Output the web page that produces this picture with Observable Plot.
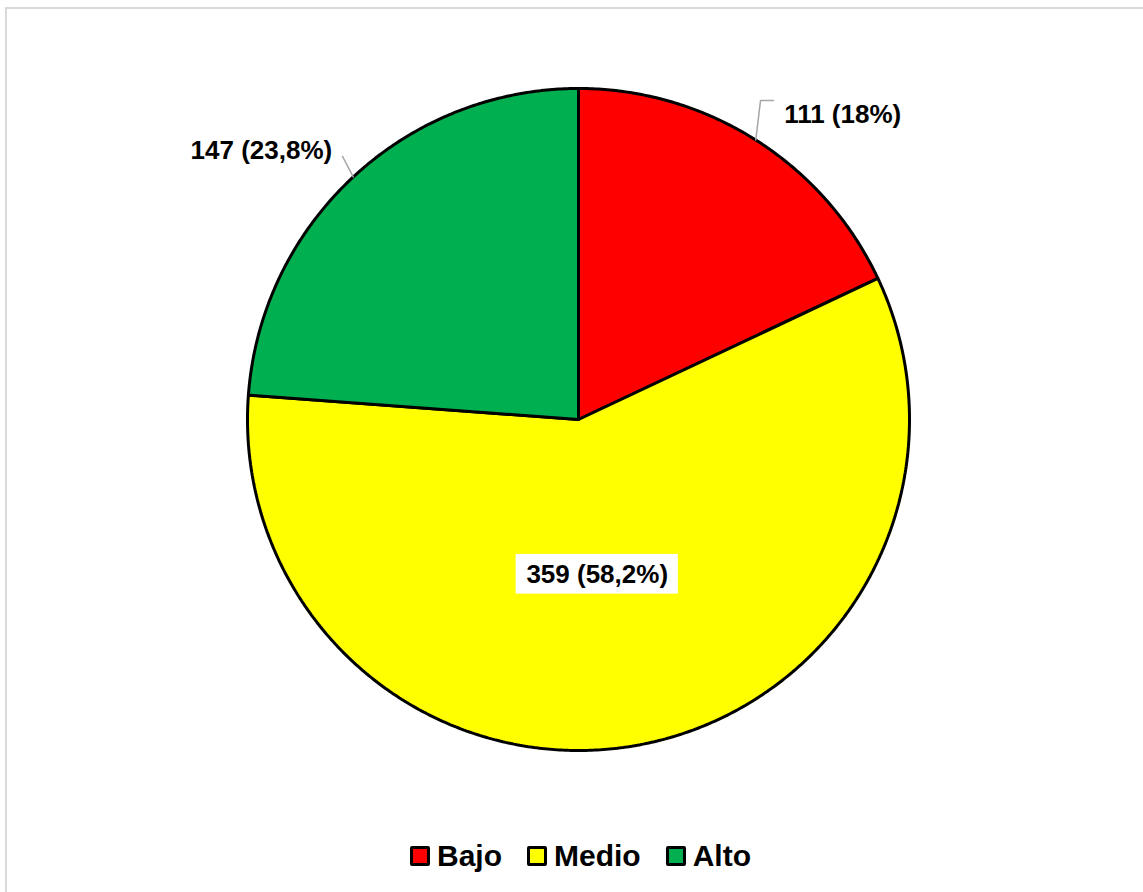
<!DOCTYPE html>
<html>
<head>
<meta charset="utf-8">
<script src="https://cdn.jsdelivr.net/npm/d3@7"></script>
<script src="https://cdn.jsdelivr.net/npm/@observablehq/plot@0.6"></script>
<style>
  html, body { margin: 0; padding: 0; background: #fff; }
  body { width: 1143px; height: 892px; overflow: hidden; position: relative; font-family: "Liberation Sans", Arial, sans-serif; }
  #frame { position: absolute; left: 5px; top: 7px; width: 1200px; height: 1000px; border: 2px solid #d9d9d9; box-sizing: border-box; }
  #chart { position: absolute; left: 0; top: 0; }
  #legend { position: absolute; left: 410px; top: 834px; height: 44px; display: flex; align-items: center; font-weight: bold; font-size: 30px; color: #000; }
  .item { display: flex; align-items: center; margin-right: 25px; }
  .sw { width: 14px; height: 14px; border: 3px solid #000; border-radius: 2px; margin-right: 7px; }
</style>
</head>
<body>
<div id="frame"></div>
<div id="chart"></div>
<div id="legend"></div>
<script>
// ---- data ----
const categories = ["Bajo", "Medio", "Alto"];
const values = [111, 359, 147];
const colors = ["#ff0000", "#ffff00", "#00b050"];

// ---- label placement (angle in degrees clockwise from 12 o'clock, radius in pie units) ----
const labelAngle = [40.9, 173.1, 310.3];
const labelRadius = [1.219, 0.471, 1.256];
// leader line elbow points (pie units), null = no leader
const leaderElbows = [
  [[0.55, 0.964], [0.589, 0.964]],
  null,
  [[-0.713, 0.795]]
];
const boxed = [false, true, false];

const total = d3.sum(values);
const fmtPct = v => {
  const p = v / total * 100;
  const r = Math.round(p * 10) / 10;
  const s = Number.isInteger(r) ? String(r) : r.toFixed(1).replace(".", ",");
  return s + "%";
};
const labels = values.map(v => `${v} (${fmtPct(v)})`);

const arcs = d3.pie().sort(null).value(d => d)(values);

// Polygon points for each slice
const piePts = [];
arcs.forEach((a, i) => {
  const cat = categories[i];
  piePts.push({cat, x: 0, y: 0});
  const n = Math.max(2, Math.ceil((a.endAngle - a.startAngle) / (Math.PI / 360)));
  for (let k = 0; k <= n; k++) {
    const t = a.startAngle + (a.endAngle - a.startAngle) * k / n;
    piePts.push({cat, x: Math.sin(t), y: Math.cos(t)});
  }
  piePts.push({cat, x: 0, y: 0});
});

// Labels
const labelData = arcs.map((a, i) => {
  const t = labelAngle[i] * Math.PI / 180;
  return {cat: categories[i], text: labels[i], x: labelRadius[i] * Math.sin(t), y: labelRadius[i] * Math.cos(t), boxed: boxed[i]};
});

// Leader lines
const leaderPts = [];
arcs.forEach((a, i) => {
  if (!leaderElbows[i]) return;
  const m = (a.startAngle + a.endAngle) / 2;
  leaderPts.push({cat: categories[i], x: Math.sin(m), y: Math.cos(m)});
  leaderElbows[i].forEach(p => leaderPts.push({cat: categories[i], x: p[0], y: p[1]}));
});

// White boxes behind boxed labels (half width/height in pie units)
const boxData = labelData.filter(d => d.boxed).map(d => ({
  x1: d.x - 0.245, x2: d.x + 0.245, y1: d.y - 0.06, y2: d.y + 0.06
}));

const chart = Plot.plot({
  width: 1143,
  height: 830,
  style: {background: "transparent"},
  x: {domain: [-1, 1], range: [247, 909], axis: null},
  y: {domain: [-1, 1], range: [750, 88], axis: null},
  color: {domain: categories, range: colors},
  marks: [
    Plot.line(piePts, {x: "x", y: "y", z: "cat", fill: "cat", stroke: "#000", strokeWidth: 3, strokeLinejoin: "miter", curve: "linear"}),
    Plot.line(leaderPts, {x: "x", y: "y", z: "cat", stroke: "#a6a6a6", strokeWidth: 1.5, strokeLinejoin: "miter"}),
    Plot.rect(boxData, {x1: "x1", x2: "x2", y1: "y1", y2: "y2", fill: "#fff"}),
    Plot.text(labelData, {x: "x", y: "y", text: "text", fontSize: 26, fontWeight: "bold", fill: "#000", fontFamily: "Liberation Sans, Arial, sans-serif"})
  ]
});
document.getElementById("chart").appendChild(chart);

// Legend
const legend = document.getElementById("legend");
categories.forEach((c, i) => {
  const item = document.createElement("div");
  item.className = "item";
  const sw = document.createElement("div");
  sw.className = "sw";
  sw.style.background = colors[i];
  const lab = document.createElement("span");
  lab.textContent = c;
  item.appendChild(sw);
  item.appendChild(lab);
  legend.appendChild(item);
});
</script>
</body>
</html>
